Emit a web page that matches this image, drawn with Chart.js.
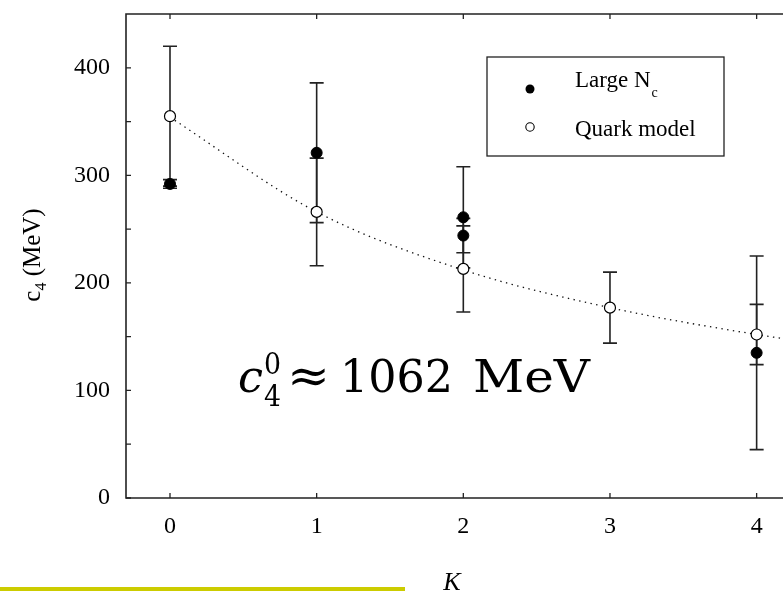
<!DOCTYPE html>
<html>
<head>
<meta charset="utf-8">
<script src="https://cdn.jsdelivr.net/npm/chart.js@4"></script>
<style>
html,body{margin:0;padding:0;background:#fff;overflow:hidden;}
#wrap{position:relative;width:830px;height:593px;}
</style>
</head>
<body>
<div id="wrap"><canvas id="c"></canvas></div>
<script>
// ---- data ----
const quarkK = [0, 1, 2, 3, 4];
const quarkC4 = [355, 266, 213, 177, 152];
const quarkErr = [65, 50, 40, 33, 28];

const largeNcK = [0, 1, 2, 2, 4];
const largeNcC4 = [292, 321, 261, 244, 135];
const largeNcErr = [4, 65, 47, 16, 90];

const fitK = [0, 1, 2, 3, 4, 4.4];
const fitC4 = [354, 266, 212, 177, 152, 144];

const xTickValues = [0, 1, 2, 3, 4];
const yTickValues = [0, 100, 200, 300, 400];

const seriesNames = ['Large N', 'Quark model'];
const axisTitleX = 'K';
const annotationValue = '1062';

const toPts = (xs, ys) => xs.map((x, i) => ({x: x, y: ys[i]}));
const SERIF = '"Liberation Serif", "Times New Roman", serif';

const errorBars = {
  id: 'errorBars',
  beforeDatasetsDraw(chart) {
    const ctx = chart.ctx, xs = chart.scales.x, ys = chart.scales.y;
    ctx.save();
    ctx.strokeStyle = '#222';
    ctx.lineWidth = 1.6;
    const draw = (K, V, E) => {
      K.forEach((k, i) => {
        const px = xs.getPixelForValue(k);
        const top = ys.getPixelForValue(V[i] + E[i]);
        const bot = ys.getPixelForValue(V[i] - E[i]);
        ctx.beginPath();
        ctx.moveTo(px, top); ctx.lineTo(px, bot);
        ctx.moveTo(px - 7, top); ctx.lineTo(px + 7, top);
        ctx.moveTo(px - 7, bot); ctx.lineTo(px + 7, bot);
        ctx.stroke();
      });
    };
    draw(quarkK, quarkC4, quarkErr);
    draw(largeNcK, largeNcC4, largeNcErr);
    ctx.restore();
  }
};

function fitText(ctx, text, x, y, font, width) {
  ctx.font = font;
  const w = ctx.measureText(text).width;
  ctx.save();
  ctx.translate(x, y);
  if (width) ctx.scale(width / w, 1);
  ctx.fillText(text, 0, 0);
  ctx.restore();
}

const decor = {
  id: 'decor',
  afterDraw(chart) {
    const ctx = chart.ctx, xs = chart.scales.x, ys = chart.scales.y;
    const a = chart.chartArea;
    ctx.save();
    // frame
    ctx.strokeStyle = '#222';
    ctx.lineWidth = 1.6;
    ctx.beginPath();
    ctx.moveTo(a.right, a.top); ctx.lineTo(a.left, a.top);
    ctx.lineTo(a.left, a.bottom); ctx.lineTo(a.right, a.bottom);
    ctx.stroke();
    // ticks (inward)
    ctx.lineWidth = 1.3;
    ctx.beginPath();
    xTickValues.forEach(v => {
      const px = xs.getPixelForValue(v);
      ctx.moveTo(px, a.bottom); ctx.lineTo(px, a.bottom - 5);
      ctx.moveTo(px, a.top); ctx.lineTo(px, a.top + 5);
    });
    ys.ticks.forEach(t => {
      const py = ys.getPixelForValue(t.value);
      ctx.moveTo(a.left, py); ctx.lineTo(a.left + 5, py);
    });
    ctx.stroke();

    ctx.fillStyle = '#000';
    ctx.textBaseline = 'alphabetic';
    ctx.textAlign = 'left';
    // legend
    ctx.lineWidth = 1.3;
    ctx.strokeRect(487, 57, 237, 99);
    ctx.beginPath(); ctx.arc(530, 89, 4.5, 0, Math.PI * 2); ctx.fill();
    ctx.beginPath(); ctx.arc(530, 127, 4.2, 0, Math.PI * 2);
    ctx.fillStyle = '#fff'; ctx.fill();
    ctx.lineWidth = 1.1; ctx.strokeStyle = '#000'; ctx.stroke();
    ctx.fillStyle = '#000';
    ctx.font = '23px ' + SERIF;
    ctx.fillText(seriesNames[0], 575, 87);
    const wl = ctx.measureText(seriesNames[0]).width;
    ctx.font = '14px ' + SERIF;
    ctx.fillText('c', 575 + wl + 1, 97);
    ctx.font = '23px ' + SERIF;
    ctx.fillText(seriesNames[1], 575, 136);

    // y axis title
    ctx.save();
    ctx.translate(40, 255);
    ctx.rotate(-Math.PI / 2);
    const t1 = 'c', t2 = ' (MeV)';
    ctx.font = '25px ' + SERIF; const w1 = ctx.measureText(t1).width;
    ctx.font = '16px ' + SERIF; const w2 = ctx.measureText('4').width;
    ctx.font = '25px ' + SERIF; const w3 = ctx.measureText(t2).width;
    let sx = -(w1 + w2 + w3) / 2;
    ctx.fillText(t1, sx, 0);
    ctx.font = '16px ' + SERIF; ctx.fillText('4', sx + w1, 6);
    ctx.font = '25px ' + SERIF; ctx.fillText(t2, sx + w1 + w2, 0);
    ctx.restore();

    // x axis title
    ctx.font = 'italic 26px ' + SERIF;
    ctx.textAlign = 'center';
    ctx.fillText(axisTitleX, 452, 590);
    ctx.textAlign = 'left';

    // annotation  c_4^0 ≈ 1062 MeV
    const MF = '"DejaVu Serif", serif';
    fitText(ctx, 'c', 238, 392, 'italic 44px ' + MF, 25);
    fitText(ctx, '0', 264, 374, '30px ' + MF, 17);
    fitText(ctx, '4', 264, 406, '30px ' + MF, 17);
    fitText(ctx, '\u2248', 287, 392, '48px ' + MF, 43);
    fitText(ctx, annotationValue, 340, 392, '44px ' + MF, 113);
    fitText(ctx, 'MeV', 473, 392, '44px ' + MF, 117);

    // yellow bar
    ctx.fillStyle = '#cccc00';
    ctx.fillRect(0, 587, 405, 4);
    ctx.restore();
  }
};

new Chart(document.getElementById('c'), {
  type: 'scatter',
  data: {
    datasets: [
      {
        type: 'line',
        label: 'fit',
        data: toPts(fitK, fitC4),
        borderColor: '#111',
        borderWidth: 1.3,
        borderDash: [1.4, 4.4],
        pointRadius: 0,
        fill: false,
        cubicInterpolationMode: 'monotone',
        order: 3
      },
      {
        label: seriesNames[0],
        data: toPts(largeNcK, largeNcC4),
        backgroundColor: '#000',
        borderColor: '#000',
        pointRadius: 5.5,
        borderWidth: 1,
        order: 2
      },
      {
        label: seriesNames[1],
        data: toPts(quarkK, quarkC4),
        backgroundColor: '#fff',
        borderColor: '#000',
        pointRadius: 5.5,
        borderWidth: 1.2,
        order: 1
      }
    ]
  },
  options: {
    responsive: true,
    maintainAspectRatio: false,
    animation: false,
    devicePixelRatio: 1,
    layout: {padding: {left: 0, top: 14, right: 14.7, bottom: 0}},
    plugins: {legend: {display: false}, tooltip: {enabled: false}},
    scales: {
      x: {
        type: 'linear',
        min: -0.3, max: 4.4,
        afterFit: s => { s.height = 95; s.paddingLeft = 0; s.paddingRight = 0; },
        afterBuildTicks: s => { s.ticks = xTickValues.map(v => ({value: v})); },
        grid: {display: false, drawTicks: false},
        border: {display: false},
        ticks: {
          padding: 14, color: '#000', autoSkip: false, maxRotation: 0,
          font: {family: SERIF, size: 24},
          callback: v => String(v)
        }
      },
      y: {
        type: 'linear',
        min: 0, max: 450,
        afterFit: s => { s.width = 126; s.paddingTop = 0; s.paddingBottom = 0; },
        afterBuildTicks: s => {
          const t = [];
          for (let v = 0; v <= 400; v += 50) t.push({value: v});
          s.ticks = t;
        },
        grid: {display: false, drawTicks: false},
        border: {display: false},
        ticks: {
          padding: 16, color: '#000', autoSkip: false,
          font: {family: SERIF, size: 24},
          callback: v => yTickValues.includes(v) ? String(v) : ''
        }
      }
    }
  },
  plugins: [errorBars, decor]
});
</script>
</body>
</html>
